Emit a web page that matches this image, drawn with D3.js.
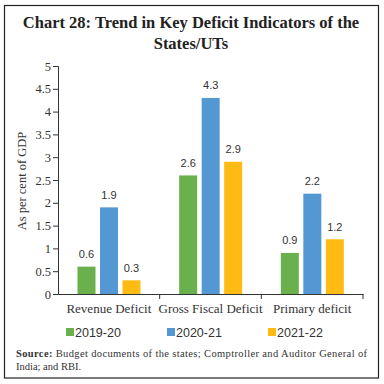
<!DOCTYPE html>
<html>
<head>
<meta charset="utf-8">
<script src="https://cdn.jsdelivr.net/npm/d3@7"></script>
<style>
  body { margin: 0; background: #fff; }
  .serif { font-family: "Liberation Serif", "DejaVu Serif", serif; }
  .sans { font-family: "Liberation Sans", Arial, sans-serif; }
</style>
</head>
<body>
<svg id="chart" width="384" height="384"></svg>
<script>
    var categories = ["Revenue Deficit", "Gross Fiscal Deficit", "Primary deficit"];
    var years = ["2019-20", "2020-21", "2021-22"];
    var values2019 = [0.6, 2.6, 0.9];
    var values2020 = [1.9, 4.3, 2.2];
    var values2021 = [0.3, 2.9, 1.2];
    var yTicks = [0, 0.5, 1, 1.5, 2, 2.5, 3, 3.5, 4, 4.5, 5];
    var colors = ["#6AB04C", "#5397D3", "#FDBB14"];

    var series = [values2019, values2020, values2021];

    var svg = d3.select("#chart");

    // frame
    svg.append("rect")
      .attr("x", 4.5).attr("y", 5.5)
      .attr("width", 374).attr("height", 372.5)
      .attr("fill", "none")
      .attr("stroke", "#222")
      .attr("stroke-width", 1.2);

    // title
    var title = svg.append("text")
      .attr("class", "serif")
      .attr("text-anchor", "middle")
      .attr("font-weight", "bold")
      .attr("font-size", "16.5px")
      .attr("fill", "#222");
    title.append("tspan").attr("x", 191).attr("y", 28).text("Chart 28: Trend in Key Deficit Indicators of the");
    title.append("tspan").attr("x", 191).attr("y", 49).text("States/UTs");

    var x0 = d3.scaleBand().domain(categories).range([58, 363]);
    var x1 = d3.scaleBand().domain(years).range([19.5, 82.5]).paddingInner(0.2);
    var y = d3.scaleLinear().domain([0, 5]).range([294, 66]);

    // bars
    years.forEach(function (yr, i) {
      svg.append("g").selectAll("rect")
        .data(series[i])
        .enter().append("rect")
        .attr("x", (d, j) => x0(categories[j]) + x1(yr))
        .attr("y", d => y(d))
        .attr("width", x1.bandwidth())
        .attr("height", d => y(0) - y(d))
        .attr("fill", colors[i]);

      svg.append("g").selectAll("text")
        .data(series[i])
        .enter().append("text")
        .attr("class", "sans")
        .attr("x", (d, j) => x0(categories[j]) + x1(yr) + x1.bandwidth() / 2)
        .attr("y", d => y(d) - 8.5)
        .attr("text-anchor", "middle")
        .attr("font-size", "11px")
        .attr("fill", "#333")
        .text(d => d.toFixed(1));
    });

    // y axis
    var yAxis = svg.append("g")
      .attr("transform", "translate(58,0)")
      .call(d3.axisLeft(y).tickValues(yTicks).tickSize(5).tickFormat(d => String(d)));
    yAxis.select(".domain").attr("stroke", "#333");
    yAxis.selectAll(".tick line").attr("stroke", "#333");
    yAxis.selectAll("text")
      .attr("class", "serif")
      .attr("font-size", "12.5px")
      .attr("fill", "#333")
      .attr("x", -7);

    // x axis with ticks at band boundaries
    var xAxis = svg.append("g")
      .attr("transform", "translate(0,294)")
      .call(d3.axisBottom(x0).tickSize(0).tickPadding(10));
    xAxis.select(".domain").attr("stroke", "#333");
    xAxis.selectAll("text")
      .attr("class", "serif")
      .attr("font-size", "13px")
      .attr("fill", "#333");
    xAxis.selectAll(".bound")
      .data(categories)
      .enter().append("line")
      .attr("x1", d => x0(d) + x0.bandwidth())
      .attr("x2", d => x0(d) + x0.bandwidth())
      .attr("y1", 0).attr("y2", 5)
      .attr("stroke", "#333");

    // y label
    svg.append("text")
      .attr("class", "serif")
      .attr("transform", "translate(26,181) rotate(-90)")
      .attr("text-anchor", "middle")
      .attr("font-size", "12.5px")
      .attr("fill", "#333")
      .text("As per cent of GDP");

    // legend
    var legendX = [66, 167, 268];
    var lg = svg.append("g").selectAll("g")
      .data(years)
      .enter().append("g")
      .attr("transform", (d, i) => "translate(" + legendX[i] + ",328)");
    lg.append("rect")
      .attr("width", 8).attr("height", 8)
      .attr("fill", (d, i) => colors[i]);
    lg.append("text")
      .attr("class", "sans")
      .attr("x", 9).attr("y", 8.5)
      .attr("font-size", "12.5px")
      .attr("fill", "#333")
      .text(d => d);

    // source
    var src = svg.append("text")
      .attr("class", "serif")
      .attr("font-size", "10.5px")
      .attr("fill", "#333")
      .attr("x", 16).attr("y", 357)
      .attr("textLength", 351)
      .attr("lengthAdjust", "spacing");
    src.append("tspan").attr("font-weight", "bold").text("Source:");
    src.append("tspan").text(" Budget documents of the states; Comptroller and Auditor General of");
    svg.append("text")
      .attr("class", "serif")
      .attr("font-size", "10.5px")
      .attr("fill", "#333")
      .attr("x", 16).attr("y", 370)
      .text("India; and RBI.");
</script>
</body>
</html>
